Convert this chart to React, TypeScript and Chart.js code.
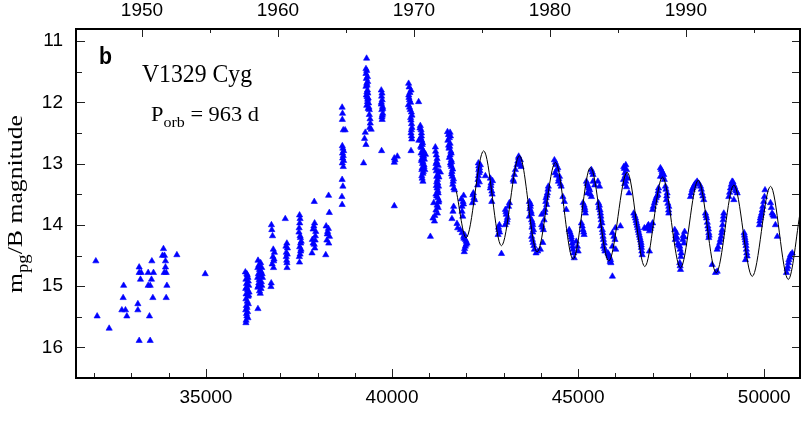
import React, { useEffect, useRef } from "react";
import { Chart, registerables } from "chart.js";

Chart.register(...registerables);

// ---- axis ranges / ticks (JD - 2400000 on x, magnitude on y) ----
const X_MIN = 31510;
const X_MAX = 50960;
const Y_MIN = 10.8;
const Y_MAX = 16.5;
const xMajorTicks = [35000, 40000, 45000, 50000];
const xMinorTicks = [32000, 33000, 34000, 36000, 37000, 38000, 39000, 41000, 42000, 43000, 44000, 46000, 47000, 48000, 49000];
const yMajorTicks = [11, 12, 13, 14, 15, 16];
const yMinorTicks = [11.5, 12.5, 13.5, 14.5, 15.5];
const topYearMajor = [1950, 1960, 1970, 1980, 1990];
const topYearMinor = [1955, 1965, 1975, 1985, 1995];
const JD_1950 = 33282.5;
const yearToJD = (yr: number) => JD_1950 + (yr - 1950) * 365.25;

// ---- observations [JD-2400000, m_pg/B] ----
const obs1946to1955: [number, number][] = [
  [32043, 14.59], [32078, 15.49], [32401, 15.69], [32790, 14.99], [32777, 15.19], [32742, 15.39], [32839, 15.39], [32876, 15.49],
  [33207, 14.69], [33207, 14.78], [33261, 14.78], [33242, 14.89], [33172, 15.29], [33172, 15.39], [33207, 15.89],
  [33449, 14.78], [33592, 14.78], [33548, 14.59], [33538, 14.89], [33449, 14.99], [33503, 14.99], [33575, 15.19], [33484, 15.49], [33503, 15.89],
  [33860, 14.39], [33833, 14.5], [33887, 14.5], [33914, 14.59], [33914, 14.69], [33879, 14.78], [33933, 14.78], [33952, 14.99], [33933, 15.19],
  [34220, 14.49], [34981, 14.8],
];

const obs1957to1964: [number, number][] = [
  [36060, 14.77], [36110, 14.82], [36075, 14.89], [36140, 14.92], [36090, 14.96], [36150, 14.99], [36070, 15.04], [36120, 15.06],
  [36160, 15.1], [36080, 15.13], [36130, 15.17], [36075, 15.21], [36110, 15.25], [36140, 15.29], [36085, 15.32], [36070, 15.39],
  [36120, 15.42], [36100, 15.49], [36080, 15.56], [36075, 15.6], [36398, 15.37],
  [36100, 14.8], [36130, 14.86], [36095, 15.02], [36150, 15.15], [36105, 15.35], [36090, 15.45], [36130, 15.52],
  [36400, 14.58], [36470, 14.62], [36420, 14.66], [36500, 14.7], [36440, 14.73], [36480, 14.76], [36410, 14.8], [36460, 14.83],
  [36520, 14.86], [36430, 14.9], [36490, 14.93], [36450, 14.97], [36410, 15.0], [36480, 15.04], [36440, 15.08], [36460, 15.12],
  [36395, 14.7], [36450, 14.68], [36510, 14.8], [36390, 14.86], [36420, 14.95], [36500, 14.99], [36395, 15.02],
  [36760, 14.0], [36790, 14.18], [36840, 14.45], [36800, 14.52], [36820, 14.59], [36780, 14.64], [36817, 14.7], [36755, 14.95], [36747, 15.01],
  [36770, 14.08], [36810, 14.4], [36830, 14.56],
  [37132, 13.9], [37175, 14.3], [37190, 14.38], [37160, 14.45], [37158, 14.52], [37177, 14.62], [37180, 14.7], [37150, 14.35], [37185, 14.48], [37170, 14.58],
  [37516, 13.84], [37520, 13.97], [37500, 14.12], [37530, 14.18], [37540, 14.21], [37560, 14.27], [37545, 14.3], [37520, 14.36], [37545, 14.43], [37510, 14.52], [37515, 14.61],
  [37530, 13.9], [37505, 14.05], [37555, 14.4], [37530, 14.48],
  [37911, 13.62], [37920, 13.97], [37880, 14.07], [37950, 14.11], [37860, 14.24], [37935, 14.25], [37910, 14.32], [37850, 14.46],
  [37900, 14.02], [37940, 14.18], [37880, 14.3], [37925, 14.38],
  [38296, 13.52], [38315, 13.8], [38230, 14.02], [38270, 14.11], [38320, 14.19], [38250, 14.25], [38220, 14.49],
  [38290, 14.06], [38260, 14.15], [38300, 14.3],
];

const obs1964to1971: [number, number][] = [
  [38660, 12.08], [38670, 12.18], [38665, 12.28], [38690, 12.45], [38740, 12.45], [38665, 12.71], [38680, 12.75], [38700, 12.79],
  [38670, 12.83], [38690, 12.87], [38675, 12.91], [38700, 12.95], [38665, 12.99], [38690, 13.05], [38660, 13.26], [38680, 13.37], [38655, 13.54], [38660, 13.67],
  [39317, 11.28], [39320, 11.48], [39300, 11.53], [39340, 11.58], [39310, 11.61], [39345, 11.66], [39320, 11.69], [39300, 11.74],
  [39340, 11.8], [39325, 11.83], [39350, 11.85], [39330, 11.91], [39360, 11.93], [39340, 11.99], [39370, 12.01], [39380, 12.08],
  [39360, 12.1], [39390, 12.12], [39416, 12.34], [39400, 12.41], [39440, 12.44], [39282, 12.49], [39262, 12.59], [39300, 12.69], [39236, 12.99],
  [39300, 11.45], [39330, 11.72], [39310, 11.88], [39345, 11.95], [39320, 12.05], [39390, 12.2], [39410, 12.27],
  [39712, 11.8], [39720, 11.9], [39735, 11.96], [39712, 12.03], [39745, 12.07], [39725, 12.12], [39750, 12.18], [39740, 12.21], [39735, 12.28], [39720, 12.79],
  [39730, 11.85], [39715, 12.0], [39750, 12.1], [39730, 12.24],
  [40142, 12.88], [40061, 12.91], [40080, 12.94], [40061, 12.98], [40061, 13.69],
  [40446, 11.69], [40510, 11.8], [40450, 11.88], [40470, 11.96], [40440, 12.04], [40490, 12.12], [40535, 12.21], [40510, 12.29],
  [40535, 12.41], [40510, 12.5], [40530, 12.6], [40510, 12.79], [40715, 11.99],
  [40460, 11.75], [40480, 11.84], [40455, 11.92], [40500, 12.0], [40470, 12.08], [40520, 12.16], [40500, 12.25], [40525, 12.35], [40520, 12.45], [40525, 12.55],
  [40760, 12.38], [40780, 12.45], [40790, 12.5], [40770, 12.58], [40800, 12.62], [40810, 12.69], [40790, 12.74], [40830, 12.78],
  [40780, 12.83], [40850, 12.88], [40800, 12.92], [40830, 12.97], [40860, 13.02], [40810, 13.07], [40840, 13.13], [40800, 13.2],
  [40830, 13.29], [40720, 12.62], [40900, 12.85], [40880, 13.1],
  [40750, 12.42], [40790, 12.55], [40820, 12.66], [40770, 12.72], [40850, 12.8], [40820, 12.86], [40790, 12.95], [40870, 12.93],
  [40820, 13.0], [40860, 13.05], [40800, 13.1], [40830, 13.16], [40810, 13.24],
  [41030, 14.19],
  [41164, 12.73], [41190, 12.86], [41200, 12.97], [41170, 13.07], [41260, 13.13], [41300, 13.14], [41200, 13.21], [41220, 13.26],
  [41230, 13.32], [41210, 13.4], [41240, 13.48], [41230, 13.56], [41250, 13.63], [41120, 13.64], [41240, 13.72], [41220, 13.81],
  [41100, 13.89], [41140, 13.94], [41180, 13.5], [41190, 13.36],
  [41170, 12.8], [41210, 12.92], [41180, 13.0], [41240, 13.03], [41190, 13.12], [41230, 13.18], [41260, 13.22], [41200, 13.3],
  [41250, 13.37], [41230, 13.44], [41200, 13.53], [41260, 13.6], [41210, 13.68], [41180, 13.76], [41150, 13.85],
  [41490, 12.48], [41560, 12.49], [41520, 12.53], [41540, 12.58], [41500, 12.62], [41560, 12.67], [41530, 12.75], [41580, 12.8],
  [41560, 12.86], [41590, 12.94], [41570, 12.99], [41600, 13.05], [41610, 13.13], [41620, 13.21], [41640, 13.29], [41660, 13.4],
  [41680, 13.43], [41655, 13.7], [41637, 13.78], [41610, 13.9],
  [41530, 12.52], [41570, 12.55], [41520, 12.7], [41550, 12.72], [41590, 12.83], [41540, 12.9], [41600, 12.97], [41580, 13.02],
  [41630, 13.09], [41600, 13.17], [41650, 13.25], [41630, 13.34],
];

const obs1972to1998: [number, number][] = [
  [41924, 13.52], [41908, 13.62], [41881, 13.7], [41881, 13.78], [41900, 13.86], [41745, 13.98], [41763, 14.05], [41835, 14.08],
  [41881, 14.13], [41924, 14.19], [41970, 14.24], [42015, 14.3], [41970, 14.35], [41951, 14.39], [41990, 14.27], [41940, 14.44],
  [41860, 13.58], [41920, 13.66], [41950, 14.16], [41990, 14.32], [41930, 14.22],
  [42185, 13.48], [42170, 13.51], [42200, 13.56], [42220, 13.59], [42160, 13.64],
  [42320, 12.99], [42373, 13.02], [42350, 13.07], [42340, 13.15], [42310, 13.26], [42300, 13.35], [42330, 13.1], [42508, 13.2],
  [42330, 13.04], [42360, 13.12], [42320, 13.2], [42345, 13.3],
  [42642, 13.24], [42660, 13.32], [42642, 13.4], [42680, 13.45], [42680, 13.62], [42700, 13.28], [42655, 13.36], [42690, 13.5],
  [42884, 14.0], [42870, 14.08], [42850, 14.16], [42940, 14.47], [42860, 14.04], [42890, 14.12],
  [43153, 13.64], [43045, 13.75], [43070, 13.83], [43090, 13.92], [43040, 14.0], [43100, 13.88], [43060, 13.79], [43080, 13.96], [43130, 13.7],
  [43314, 13.1], [43287, 13.18], [43252, 13.26], [43268, 13.29], [43403, 12.88], [43448, 12.94], [43403, 12.99], [43467, 13.05], [43357, 13.02], [43420, 12.92],
  [43380, 12.96], [43430, 13.0], [43400, 12.9],
  [43690, 13.62], [43715, 13.7], [43735, 13.78], [43690, 13.86], [43750, 13.92], [43780, 14.0], [43800, 14.08], [43750, 14.19],
  [43790, 14.29], [43825, 14.4], [43870, 14.46], [43720, 13.66], [43760, 14.04],
  [43705, 13.74], [43745, 13.82], [43770, 13.96], [43780, 14.12], [43770, 14.24], [43810, 14.34],
  [43915, 14.43], [43985, 14.4], [44050, 14.29],
  [44066, 14.08], [44020, 14.0], [44085, 13.92], [44020, 13.83], [44110, 13.75], [44155, 13.67], [44137, 13.56], [44173, 13.48], [44200, 13.37],
  [44040, 14.04], [44100, 13.8], [44130, 13.62], [44160, 13.52], [44190, 13.42],
  [44362, 12.94], [44410, 13.02], [44455, 13.07], [44380, 13.15], [44500, 13.21], [44470, 13.29], [44545, 13.37],
  [44390, 12.98], [44430, 13.1], [44420, 13.19], [44480, 13.25], [44520, 13.33],
  [44590, 13.54], [44630, 13.62], [44680, 13.75],
  [44760, 14.08], [44805, 14.16], [44825, 14.24], [44850, 14.35], [44880, 14.46], [44895, 14.54], [44950, 14.27], [44980, 14.35], [45000, 14.43],
  [44780, 14.12], [44815, 14.2], [44840, 14.3], [44860, 14.4],
  [45088, 13.97], [45130, 14.08], [45160, 14.16], [45130, 13.64], [45175, 13.72], [45195, 13.81],
  [45110, 14.02], [45150, 14.12], [45160, 13.68], [45185, 13.76],
  [45222, 13.29], [45265, 13.37], [45310, 13.43], [45250, 13.48], [45356, 13.54], [45356, 13.1], [45400, 13.18],
  [45240, 13.33], [45290, 13.4], [45330, 13.5], [45380, 13.14],
  [45400, 13.29], [45445, 13.35], [45530, 13.29], [45575, 13.37],
  [45545, 13.64], [45560, 13.72], [45600, 13.81], [45620, 13.92], [45600, 14.02], [45660, 14.13], [45680, 14.24], [45680, 14.35], [45720, 14.43],
  [45570, 13.68], [45590, 13.76], [45610, 13.86], [45640, 13.97], [45650, 14.08], [45670, 14.19], [45700, 14.3], [45710, 14.39],
  [45800, 14.46], [45830, 14.51], [45850, 14.54], [45870, 14.57], [45880, 14.62], [45920, 14.84], [45815, 14.48], [45860, 14.6],
  [45920, 14.13], [45960, 14.19], [45990, 14.24], [45920, 14.35], [46010, 14.4], [46000, 14.05], [46136, 14.02],
  [46226, 13.05], [46280, 13.02], [46255, 13.15], [46220, 13.26], [46280, 13.29], [46325, 13.24], [46365, 13.48],
  [46240, 13.08], [46265, 13.2], [46300, 13.1], [46250, 13.33], [46300, 13.38],
  [46494, 13.81], [46540, 13.89], [46570, 13.97], [46600, 14.05], [46630, 14.13], [46660, 14.21], [46690, 14.29], [46700, 14.37], [46720, 14.49],
  [46520, 13.85], [46555, 13.93], [46585, 14.01], [46615, 14.09], [46645, 14.17], [46675, 14.25], [46695, 14.33], [46710, 14.43],
  [46780, 14.05], [46870, 14.02], [46915, 14.1], [46960, 14.02], [47000, 13.97], [46915, 14.43], [46830, 14.06], [46940, 14.06], [46890, 14.0],
  [47000, 13.75], [47050, 13.64], [47095, 13.56], [47140, 13.51], [47160, 13.4], [47020, 13.7], [47070, 13.6], [47115, 13.53], [47150, 13.45],
  [47210, 13.07], [47255, 13.13], [47300, 13.18], [47210, 13.21], [47315, 13.26], [47230, 13.1], [47270, 13.16], [47280, 13.22],
  [47345, 13.37], [47390, 13.48], [47370, 13.59], [47435, 13.7], [47435, 13.81], [47360, 13.42], [47380, 13.53], [47410, 13.65], [47430, 13.76],
  [47595, 14.08], [47640, 14.13], [47610, 14.24], [47680, 14.3], [47730, 14.35], [47770, 14.46], [47730, 14.62], [47750, 14.73],
  [47810, 14.24], [47860, 14.11], [47840, 14.3],
  [47620, 14.18], [47655, 14.21], [47700, 14.33], [47740, 14.4], [47760, 14.52], [47740, 14.67], [47820, 14.18], [47850, 14.2],
  [48017, 13.54], [48062, 13.43], [48106, 13.37], [48152, 13.32], [48196, 13.29], [48286, 13.37], [48330, 13.48], [48375, 13.59],
  [48040, 13.48], [48080, 13.4], [48130, 13.34], [48250, 13.33], [48310, 13.42], [48350, 13.53],
  [48420, 13.81], [48450, 13.89], [48485, 14.02], [48510, 14.13], [48510, 14.21], [48435, 13.85], [48470, 13.96], [48500, 14.07], [48520, 14.17],
  [48600, 14.65], [48735, 14.76], [48690, 14.78],
  [48735, 14.4], [48805, 14.29], [48843, 14.19], [48870, 14.08], [48895, 13.92], [48913, 13.81],
  [48760, 14.36], [48820, 14.24], [48855, 14.13], [48880, 14.0], [48905, 13.86],
  [49047, 13.54], [49092, 13.4], [49138, 13.29], [49183, 13.35], [49228, 13.43], [49273, 13.48], [49183, 13.59],
  [49070, 13.47], [49115, 13.34], [49160, 13.3], [49205, 13.38], [49250, 13.45],
  [49460, 14.13], [49480, 14.21], [49500, 14.29], [49520, 14.4], [49540, 14.51], [49495, 14.57],
  [49470, 14.17], [49490, 14.25], [49510, 14.34], [49530, 14.46],
  [49870, 14.0], [49895, 13.89], [49930, 13.81], [49960, 13.7], [50005, 13.54], [50020, 13.43],
  [49880, 13.94], [49910, 13.85], [49945, 13.76], [49985, 13.62],
  [50167, 13.64], [50210, 13.81], [50260, 13.86], [50350, 14.19], [50190, 13.72], [50235, 13.84], [50300, 14.0],
  [50597, 14.78], [50633, 14.68], [50660, 14.57], [50705, 14.49], [50751, 14.46], [50615, 14.72], [50650, 14.62], [50690, 14.53],
];

// ---- orbital (P = 963 d) fit: turning points of the curve ----
const fitJD = [41728, 41989, 42462, 42938, 43422, 43898, 44390, 44866, 45331, 45823, 46317, 46790, 47266, 47750, 48226, 48710, 49183, 49677, 50169, 50645, 50976];
const fitMag = [13.45, 14.21, 12.79, 14.34, 12.87, 14.44, 12.98, 14.56, 13.06, 14.59, 13.14, 14.68, 13.22, 14.7, 13.27, 14.78, 13.35, 14.84, 13.37, 14.89, 13.75];

const SANS = '"Liberation Sans", Arial, Helvetica, sans-serif';
const SERIF = '"Liberation Serif", "Times New Roman", Times, serif';

function drawRuns(ctx: CanvasRenderingContext2D, runs: { t: string; size: number; dy: number; bold?: boolean }[], family: string, x: number, y: number, targetWidth: number) {
  let w = 0;
  for (const r of runs) {
    ctx.font = `${r.bold ? "bold " : ""}${r.size}px ${family}`;
    w += ctx.measureText(r.t).width;
  }
  const s = targetWidth / w;
  ctx.save();
  ctx.translate(x, y);
  ctx.scale(s, 1);
  let cx = 0;
  for (const r of runs) {
    ctx.font = `${r.bold ? "bold " : ""}${r.size}px ${family}`;
    ctx.fillText(r.t, cx, r.dy);
    cx += ctx.measureText(r.t).width;
  }
  ctx.restore();
}

const decorPlugin = {
  id: "decor",
  afterDraw(chart: any) {
    const { ctx, chartArea: a, scales } = chart;
    const xs = scales.x, ys = scales.y;
    ctx.save();
    ctx.strokeStyle = "#222";
    ctx.lineWidth = 1;
    const line = (x1: number, y1: number, x2: number, y2: number) => {
      ctx.beginPath();
      ctx.moveTo(x1, y1);
      ctx.lineTo(x2, y2);
      ctx.stroke();
    };
    for (const v of xMajorTicks) { const p = Math.round(xs.getPixelForValue(v)) + 0.5; line(p, a.bottom, p, a.bottom - 9); }
    for (const v of xMinorTicks) { const p = Math.round(xs.getPixelForValue(v)) + 0.5; line(p, a.bottom, p, a.bottom - 5); }
    for (const yr of topYearMajor) { const p = Math.round(xs.getPixelForValue(yearToJD(yr))) + 0.5; line(p, a.top, p, a.top + 8); }
    for (const yr of topYearMinor) { const v = yearToJD(yr); if (v > X_MAX) continue; const p = Math.round(xs.getPixelForValue(v)) + 0.5; line(p, a.top, p, a.top + 4); }
    for (const v of yMajorTicks) { const p = Math.round(ys.getPixelForValue(v)) + 0.5; line(a.left, p, a.left + 9, p); line(a.right, p, a.right - 8, p); }
    for (const v of yMinorTicks) { const p = Math.round(ys.getPixelForValue(v)) + 0.5; line(a.left, p, a.left + 6, p); line(a.right, p, a.right - 8, p); }
    ctx.strokeStyle = "#000";
    ctx.lineWidth = 2;
    ctx.strokeRect(a.left, a.top, a.right - a.left, a.bottom - a.top);

    ctx.fillStyle = "#000";
    ctx.textBaseline = "alphabetic";
    ctx.textAlign = "left";
    drawRuns(ctx, [{ t: "b", size: 23, dy: 0, bold: true }], SANS, 99, 64, 13);
    drawRuns(ctx, [{ t: "V1329 Cyg", size: 26, dy: 0 }], SERIF, 142, 82, 110);
    drawRuns(ctx, [
      { t: "P", size: 21, dy: 0 },
      { t: "orb", size: 15, dy: 6 },
      { t: " = 963 d", size: 21, dy: 0 },
    ], SERIF, 151, 121, 108);
    ctx.save();
    ctx.translate(22, 293);
    ctx.rotate(-Math.PI / 2);
    drawRuns(ctx, [
      { t: "m", size: 22, dy: 0 },
      { t: "pg", size: 16, dy: 6 },
      { t: "/B magnitude", size: 22, dy: 0 },
    ], SERIF, 0, 0, 178);
    ctx.restore();
    ctx.restore();
  },
};

export default function App() {
  const ref = useRef<HTMLCanvasElement>(null);
  useEffect(() => {
    if (!ref.current) return;
    const allObs = [...obs1946to1955, ...obs1957to1964, ...obs1964to1971, ...obs1972to1998];
    const chart = new Chart(ref.current, {
      type: "scatter",
      data: {
        datasets: [
          {
            type: "line",
            label: "fit",
            data: fitJD.map((x, i) => ({ x, y: fitMag[i] })),
            borderColor: "#000",
            borderWidth: 1,
            pointRadius: 0,
            cubicInterpolationMode: "monotone",
            fill: false,
            order: 0,
          } as any,
          {
            label: "obs",
            data: allObs.map(([x, y]) => ({ x, y })),
            pointStyle: "triangle",
            pointRadius: 3.6,
            pointBorderWidth: 0.6,
            backgroundColor: "#0000ff",
            borderColor: "#0000ff",
            order: 1,
          },
        ],
      },
      options: {
        animation: false,
        responsive: false,
        devicePixelRatio: 1,
        layout: { padding: { left: 0, right: 10, top: 0, bottom: 0 } },
        plugins: { legend: { display: false }, tooltip: { enabled: false } },
        scales: {
          x: {
            type: "linear",
            position: "bottom",
            min: X_MIN,
            max: X_MAX,
            grid: { display: false, drawTicks: false },
            border: { display: false },
            afterBuildTicks: (s: any) => { s.ticks = xMajorTicks.map((value) => ({ value })); },
            afterFit: (s: any) => { s.height = 64; },
            ticks: { color: "#000", font: { family: SANS, size: 19 }, padding: 8, maxRotation: 0, callback: (v: any) => String(v) },
          },
          xTop: {
            type: "linear",
            position: "top",
            min: X_MIN,
            max: X_MAX,
            grid: { display: false, drawTicks: false },
            border: { display: false },
            afterBuildTicks: (s: any) => { s.ticks = topYearMajor.map((yr) => ({ value: yearToJD(yr) })); },
            afterFit: (s: any) => { s.height = 29; },
            ticks: {
              color: "#000",
              font: { family: SANS, size: 19 },
              padding: 7,
              maxRotation: 0,
              callback: (v: any) => String(Math.round(1950 + (v - JD_1950) / 365.25)),
            },
          },
          y: {
            type: "linear",
            reverse: true,
            min: Y_MIN,
            max: Y_MAX,
            grid: { display: false, drawTicks: false },
            border: { display: false },
            afterBuildTicks: (s: any) => { s.ticks = yMajorTicks.map((value) => ({ value })); },
            afterFit: (s: any) => { s.width = 76; },
            ticks: { color: "#000", font: { family: SANS, size: 19 }, padding: 13 },
          },
        },
      } as any,
      plugins: [decorPlugin],
    });
    return () => chart.destroy();
  }, []);
  return (
    <div style={{ position: "absolute", left: 0, top: 0, width: 810, height: 442, background: "#fff" }}>
      <canvas ref={ref} width={810} height={442} />
    </div>
  );
}
